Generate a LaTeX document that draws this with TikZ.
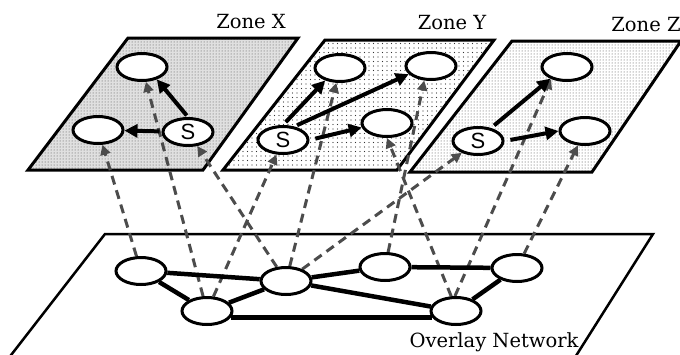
\documentclass[tikz,border=0pt]{standalone}
\usepackage{fontspec}
\setmainfont{DejaVu Serif}
\newfontfamily\sflabel{Liberation Sans}
\usetikzlibrary{shapes.geometric,arrows.meta,patterns,patterns.meta}
\pgfdeclarelayer{bg}
\pgfdeclarelayer{mid}
\pgfsetlayers{bg,mid,main}
\begin{document}
\begin{tikzpicture}[x=1pt,y=-1pt,
  nd/.style={draw,ellipse,line width=3pt,fill=white,minimum width=50pt,minimum height=27pt,inner sep=0pt},
  snd/.style={nd,font=\sflabel\fontsize{22}{22}\selectfont},
  zone/.style={draw,line width=3pt,line join=miter},
  link/.style={line width=4.5pt},
  sarrow/.style={line width=4pt,-{Triangle[length=13pt,width=13pt]},shorten <=2pt},
  maparrow/.style={draw=black!70,line width=3pt,dash pattern=on 9pt off 6pt,-{Triangle[length=10pt,width=10pt,fill=black!70]}},
  lbl/.style={font=\fontsize{19.5}{19.5}\selectfont}]
\clip (0,0) rectangle (680,354);

% zones
\begin{pgfonlayer}{bg}
\fill[black!12] (128,38) -- (298,38) -- (203,170) -- (28,170) -- cycle;
\fill[pattern={Dots[distance=3pt,radius=0.5pt]},pattern color=black!70] (128,38) -- (298,38) -- (203,170) -- (28,170) -- cycle;
\draw[zone] (128,38) -- (298,38) -- (203,170) -- (28,170) -- cycle;
\fill[pattern={Dots[distance=4.5pt,radius=0.55pt]},pattern color=black!80] (325,40) -- (494,40) -- (397,170) -- (223,170) -- cycle;
\draw[zone] (325,40) -- (494,40) -- (397,170) -- (223,170) -- cycle;
\fill[pattern={Dots[distance=3pt,radius=0.5pt]},pattern color=black!75] (512,41) -- (681,41) -- (592,172) -- (410,172) -- cycle;
\draw[zone] (512,41) -- (681,41) -- (592,172) -- (410,172) -- cycle;
% overlay plane
\draw[line width=2.5pt,line join=miter] (8,359) -- (105,234) -- (653,234) -- (574,359);
\end{pgfonlayer}

\node[lbl] (lx) at (251,22) {Zone X};
\node[lbl] (ly) at (452,23) {Zone Y};
\node[lbl] (lz) at (646,25) {Zone Z};
\node[lbl] (lo) at (494,342) {Overlay Network};

% zone X nodes
\node[nd] (xtop) at (142,67) {};
\node[nd] (xleft) at (98,130) {};
\node[snd] (xs) at (188,132) {S};
% zone Y nodes
\node[nd] (ytl) at (340,68) {};
\node[nd] (ytr) at (431,66) {};
\node[nd] (ymid) at (387,123) {};
\node[snd] (ys) at (283,140) {S};
% zone Z nodes
\node[nd] (ztop) at (567,67) {};
\node[nd] (zright) at (585,131) {};
\node[snd] (zs) at (478,141) {S};

% overlay nodes
\node[nd] (n1) at (141,271) {};
\node[nd] (n2) at (207,311) {};
\node[nd] (n3) at (286,281) {};
\node[nd] (n4) at (385,267) {};
\node[nd] (n5) at (517,268) {};
\node[nd] (n6) at (456,311) {};

% overlay links
\draw[link] (n1) -- (n3);
\draw[link] (n1) -- (n2);
\draw[link] (n2) -- (n3);
\draw[link] (n2.345) -- (n6.195);
\draw[link] (n3) -- (n4);
\draw[link] (n3) -- (n6);
\draw[link] (n4) -- (n5);
\draw[link] (n5) -- (n6);

% solid arrows within zones
\draw[sarrow] (xs.north) -- (xtop.320);
\draw[sarrow] (xs) -- (xleft);
\draw[sarrow,shorten <=4pt] (ys.north) -- (ytl.220);
\draw[sarrow,shorten <=3pt] (ys.50) -- (ytr.200);
\draw[sarrow,shorten <=6pt] (ys.east) -- (ymid.190);
\draw[sarrow,shorten <=4pt] (zs.45) -- (ztop.215);
\draw[sarrow,shorten <=6pt] (zs.east) -- (zright.west);

% mapping arrows
\begin{pgfonlayer}{mid}
\draw[maparrow] (n1) -- (xleft);
\draw[maparrow] (n2) -- (xtop);
\draw[maparrow] (n2) -- (ys);
\draw[maparrow] (n3) -- (xs);
\draw[maparrow] (n3) -- (ytl);
\draw[maparrow] (n3) -- (zs);
\draw[maparrow] (n4) -- (ytr.245);
\draw[maparrow] (n6.108) -- (ymid.270);
\draw[maparrow] (n6.94) -- (ztop.217);
\draw[maparrow] (n5) -- (zright);
\end{pgfonlayer}
\end{tikzpicture}
\end{document}
